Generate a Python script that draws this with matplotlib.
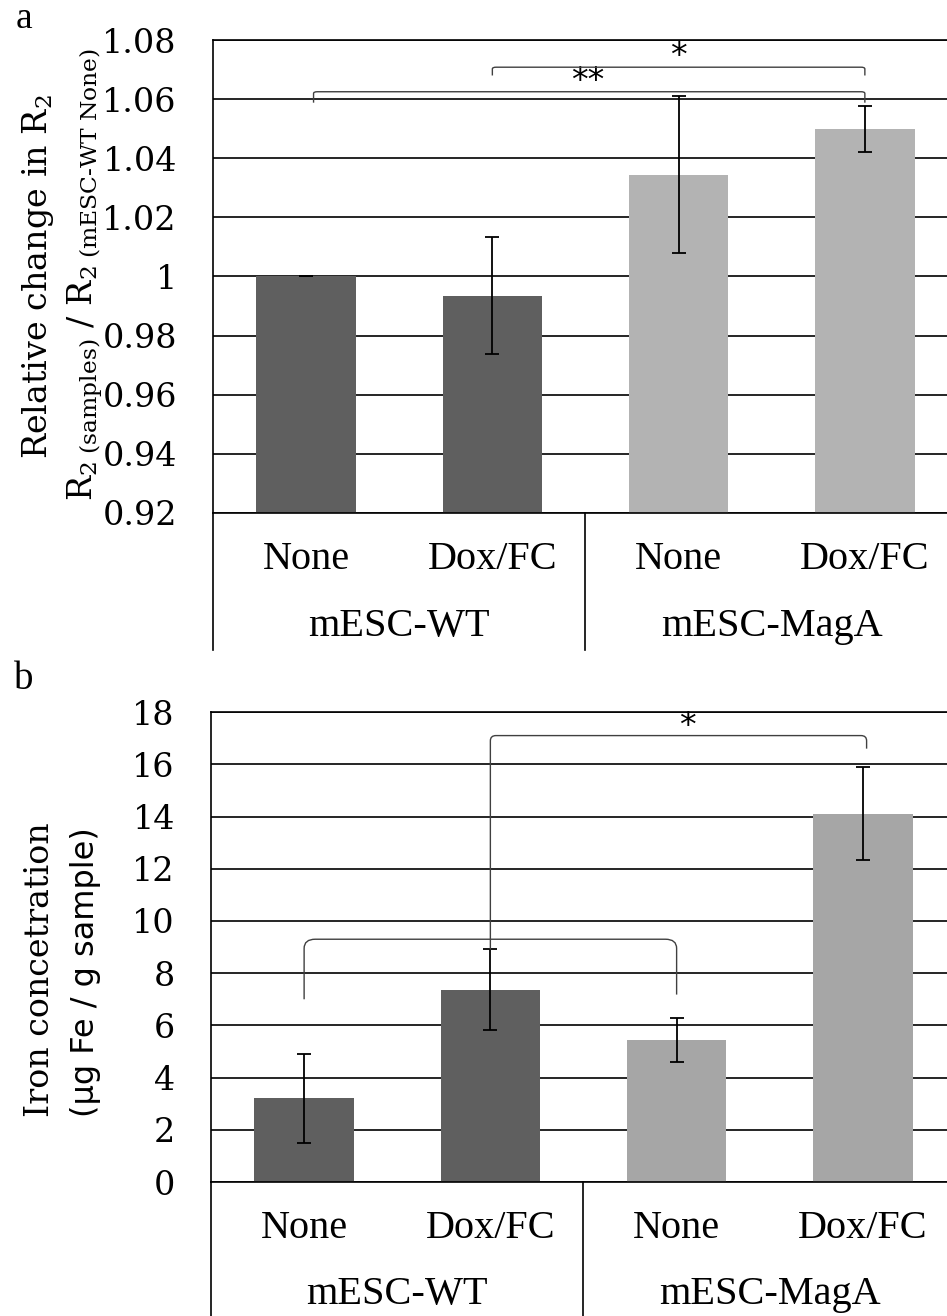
"""
Relaxation change (R2) and iron content for mESC-WT / mESC-MagA
"""

import numpy as np
import matplotlib.pyplot as plt
from matplotlib.path import Path
from matplotlib.patches import PathPatch
from matplotlib.ticker import FuncFormatter

# data
conditions = ['None', 'Dox/FC', 'None', 'Dox/FC']
groups = ['mESC-WT', 'mESC-MagA']
r2_mean = [1.000, 0.9935, 1.0345, 1.0498]
r2_err = [0.0, 0.0198, 0.0267, 0.0078]
iron_mean = [3.2, 7.37, 5.45, 14.1]
iron_err = [1.7, 1.55, 0.85, 1.78]

DARK = '#5f5f5f'
plt.rcParams['font.family'] = 'DejaVu Serif'
plt.rcParams['mathtext.fontset'] = 'dejavuserif'


def style_axes(ax, ylim, step, light, fmt):
    x = np.arange(len(conditions))
    ax.set_xlim(-0.5, 3.5)
    ax.set_ylim(*ylim)
    ax.set_yticks(np.arange(ylim[0], ylim[1] + step / 2, step))
    ax.yaxis.set_major_formatter(FuncFormatter(fmt))
    ax.yaxis.grid(True, color='black', linewidth=1.2)
    ax.set_axisbelow(True)
    ax.set_xticks([])
    ax.tick_params(axis='y', length=0, pad=26, labelsize=24)
    for s in ['left', 'top', 'bottom']:
        ax.spines[s].set_linewidth(1.2)
    ax.spines['right'].set_visible(False)
    return x, [DARK, DARK, light, light]


def category_table(ax, y_cond, y_group, y_end):
    tr = ax.get_xaxis_transform()
    for i, c in enumerate(conditions):
        ax.text(i, y_cond, c, transform=tr, ha='center', va='center',
                fontsize=29, family='Liberation Serif')
    for j, g in enumerate(groups):
        ax.text(2 * j + 0.5, y_group, g, transform=tr, ha='center',
                va='center', fontsize=29, family='Liberation Serif')
    for xv in [-0.5, 1.5]:
        ax.plot([xv, xv], [0, y_end], transform=tr, color='black',
                linewidth=1.2, clip_on=False)


def bracket(ax, x1, x2, y, y1, y2, rx, ry):
    verts = [(x1, y1), (x1, y - ry), (x1, y), (x1 + rx, y),
             (x2 - rx, y), (x2, y), (x2, y - ry), (x2, y2)]
    codes = [Path.MOVETO, Path.LINETO, Path.CURVE3, Path.CURVE3,
             Path.LINETO, Path.CURVE3, Path.CURVE3, Path.LINETO]
    ax.add_patch(PathPatch(Path(verts, codes), facecolor='none',
                           edgecolor='#404040', linewidth=1.0, zorder=4))


fig = plt.figure(figsize=(9.47, 13.16), dpi=100)

# panel a
ax_a = fig.add_axes([0.2249, 0.6102, 0.7867, 0.3594])
x, cols = style_axes(ax_a, (0.92, 1.08), 0.02, '#b3b3b3',
                     lambda v, p: f'{v:.2f}'.rstrip('0').rstrip('.'))
ax_a.bar(x, r2_mean, width=0.535, color=cols, zorder=2)
ax_a.errorbar(x, r2_mean, yerr=r2_err, fmt='none', ecolor='black',
              elinewidth=1.3, capsize=5, capthick=1.3, zorder=3)
category_table(ax_a, -0.099, -0.241, -0.29)
bracket(ax_a, 0.04, 3.0, 1.0625, 1.0588, 1.0588, 0.02, 0.0006)
bracket(ax_a, 1.0, 3.0, 1.0708, 1.068, 1.068, 0.02, 0.0006)
ax_a.text(1.51, 1.0660, '**', ha='center', va='center', fontsize=24,
          family='DejaVu Sans')
ax_a.text(2.0, 1.0745, '*', ha='center', va='center', fontsize=24,
          family='DejaVu Sans')

# panel b
ax_b = fig.add_axes([0.2228, 0.1018, 0.7867, 0.3571])
x, cols = style_axes(ax_b, (0, 18), 2, '#a6a6a6', lambda v, p: f'{v:g}')
ax_b.bar(x, iron_mean, width=0.535, color=cols, zorder=2)
ax_b.errorbar(x, iron_mean, yerr=iron_err, fmt='none', ecolor='black',
              elinewidth=1.3, capsize=5, capthick=1.3, zorder=3)
category_table(ax_b, -0.098, -0.240, -0.30)
bracket(ax_b, 0.0, 2.0, 9.3, 7.0, 7.18, 0.06, 0.35)
bracket(ax_b, 1.0, 3.02, 17.1, 8.9, 16.6, 0.03, 0.2)
ax_b.text(2.06, 17.45, '*', ha='center', va='center', fontsize=24,
          family='DejaVu Sans')

# y labels and panel letters
fig.text(0.0401, 0.7895, r'$\text{Relative change in R}_2$', rotation=90,
         ha='center', va='center', fontsize=24)
fig.text(0.0898, 0.7918,
         r'$\text{R}_{2\ \text{(samples)}}\text{ / R}_{2\ \text{(mESC-WT None)}}$',
         rotation=90, ha='center', va='center', fontsize=24)
fig.text(0.0422, 0.2629, 'Iron concetration', rotation=90,
         ha='center', va='center', fontsize=24)
fig.text(0.0898, 0.2614, '(µg Fe / g sample)', rotation=90,
         ha='center', va='center', fontsize=23, family='DejaVu Sans')
fig.text(0.0253, 0.9856, 'a', ha='center', va='center', fontsize=27,
         family='Liberation Serif')
fig.text(0.0253, 0.4833, 'b', ha='center', va='center', fontsize=28,
         family='Liberation Serif')

fig.savefig('out.png', dpi=100)
